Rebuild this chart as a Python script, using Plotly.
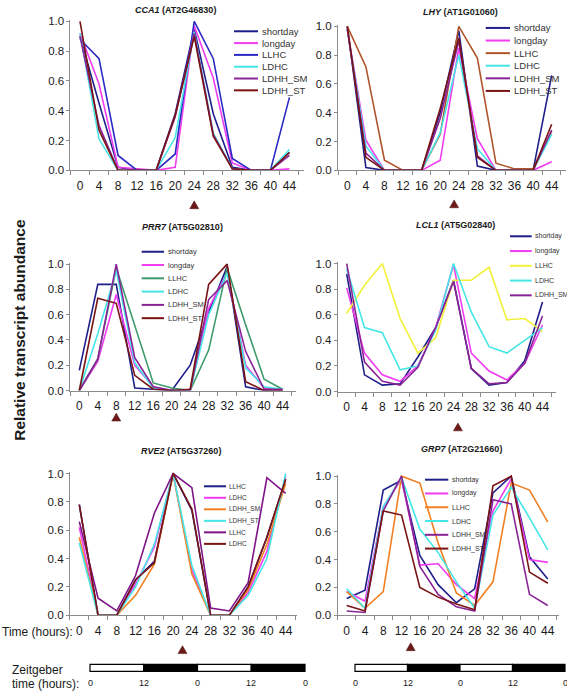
import plotly.graph_objects as go

# ---------------- data ----------------
hours = [0, 4, 8, 12, 16, 20, 24, 28, 32, 36, 40, 44]
y_ticks = [0.0, 0.2, 0.4, 0.6, 0.8, 1.0]

cca1_names = ["shortday", "longday", "LLHC", "LDHC", "LDHH_SM", "LDHH_ST"]
cca1_values = [
    [0.90, 0.45, 0.02, 0.00, 0.00, 0.38, 0.95, 0.38, 0.02, 0.00, 0.00, 0.12],
    [0.92, 0.58, 0.02, 0.01, 0.00, 0.02, 0.97, 0.62, 0.05, 0.00, 0.00, 0.01],
    [0.88, 0.75, 0.10, 0.00, 0.00, 0.11, 1.00, 0.75, 0.08, 0.00, 0.00, 0.49],
    [0.92, 0.21, 0.00, 0.00, 0.00, 0.22, 0.93, 0.25, 0.01, 0.00, 0.00, 0.14],
    [0.90, 0.30, 0.00, 0.00, 0.00, 0.36, 0.92, 0.24, 0.01, 0.00, 0.00, 0.10],
    [1.00, 0.27, 0.00, 0.00, 0.00, 0.37, 0.90, 0.23, 0.01, 0.00, 0.00, 0.12],
]

lhy_names = ["shortday", "longday", "LLHC", "LDHC", "LDHH_SM", "LDHH_ST"]
lhy_values = [
    [1.00, 0.02, 0.00, 0.00, 0.00, 0.40, 0.97, 0.03, 0.00, 0.00, 0.00, 0.66],
    [0.98, 0.21, 0.00, 0.00, 0.00, 0.07, 0.85, 0.22, 0.00, 0.00, 0.00, 0.06],
    [1.00, 0.72, 0.07, 0.00, 0.00, 0.25, 1.00, 0.78, 0.05, 0.01, 0.01, 0.27],
    [0.98, 0.17, 0.00, 0.00, 0.00, 0.26, 0.80, 0.15, 0.00, 0.00, 0.00, 0.25],
    [0.98, 0.12, 0.00, 0.00, 0.00, 0.36, 0.90, 0.10, 0.00, 0.00, 0.00, 0.28],
    [1.00, 0.09, 0.00, 0.00, 0.00, 0.43, 0.92, 0.09, 0.00, 0.00, 0.00, 0.32],
]

prr7_names = ["shortday", "longday", "LLHC", "LDHC", "LDHH_SM", "LDHH_ST"]
prr7_values = [
    [0.16, 0.84, 0.84, 0.02, 0.01, 0.00, 0.20, 0.62, 0.98, 0.03, 0.00, 0.00],
    [0.00, 0.23, 0.76, 0.20, 0.03, 0.00, 0.00, 0.65, 0.93, 0.20, 0.02, 0.00],
    [0.00, 0.25, 0.97, 0.52, 0.06, 0.02, 0.00, 0.32, 0.97, 0.52, 0.09, 0.01],
    [0.00, 0.45, 0.95, 0.22, 0.02, 0.00, 0.00, 0.60, 0.93, 0.18, 0.03, 0.01],
    [0.00, 0.25, 1.00, 0.26, 0.03, 0.00, 0.00, 0.72, 0.87, 0.31, 0.01, 0.01],
    [0.00, 0.73, 0.69, 0.12, 0.01, 0.00, 0.01, 0.84, 1.00, 0.07, 0.00, 0.00],
]

lcl1_names = ["shortday", "longday", "LLHC", "LDHC", "LDHH_SM"]
lcl1_values = [
    [0.92, 0.13, 0.05, 0.06, 0.27, 0.50, 0.87, 0.18, 0.05, 0.07, 0.24, 0.70],
    [0.81, 0.30, 0.13, 0.08, 0.20, 0.50, 0.99, 0.30, 0.16, 0.09, 0.22, 0.52],
    [0.61, 0.83, 1.00, 0.57, 0.30, 0.42, 0.87, 0.87, 0.97, 0.56, 0.57, 0.47],
    [0.96, 0.50, 0.46, 0.17, 0.20, 0.48, 1.00, 0.62, 0.35, 0.30, 0.40, 0.50],
    [1.00, 0.23, 0.08, 0.05, 0.19, 0.50, 0.86, 0.18, 0.06, 0.07, 0.22, 0.59],
]

rve2_names = ["LLHC", "LDHC", "LDHH_SM", "LDHH_ST", "LLHC", "LDHC"]
rve2_values = [
    [0.78, 0.00, 0.00, 0.25, 0.38, 1.00, 0.74, 0.00, 0.00, 0.20, 0.55, 0.96],
    [0.62, 0.00, 0.00, 0.22, 0.48, 1.00, 0.32, 0.00, 0.00, 0.16, 0.45, 0.98],
    [0.55, 0.00, 0.00, 0.14, 0.36, 1.00, 0.29, 0.00, 0.00, 0.18, 0.50, 0.93],
    [0.51, 0.00, 0.00, 0.20, 0.50, 1.00, 0.35, 0.00, 0.00, 0.14, 0.40, 1.00],
    [0.66, 0.12, 0.03, 0.28, 0.72, 1.00, 0.90, 0.05, 0.03, 0.23, 0.97, 0.86],
    [0.78, 0.00, 0.00, 0.25, 0.37, 1.00, 0.75, 0.00, 0.00, 0.20, 0.55, 0.96],
]

grp7_names = ["shortday", "longday", "LLHC", "LDHC", "LDHH_SM", "LDHH_ST"]
grp7_values = [
    [0.12, 0.18, 0.90, 0.97, 0.43, 0.22, 0.09, 0.19, 0.88, 1.00, 0.42, 0.26],
    [0.17, 0.10, 0.78, 0.98, 0.36, 0.37, 0.22, 0.12, 0.75, 0.98, 0.40, 0.38],
    [0.17, 0.05, 0.17, 1.00, 0.95, 0.52, 0.16, 0.07, 0.24, 0.95, 0.90, 0.67],
    [0.19, 0.05, 0.78, 0.99, 0.62, 0.45, 0.24, 0.05, 0.72, 0.92, 0.70, 0.47],
    [0.03, 0.02, 0.75, 1.00, 0.35, 0.15, 0.06, 0.03, 0.83, 0.80, 0.15, 0.07],
    [0.07, 0.03, 0.75, 0.72, 0.20, 0.13, 0.08, 0.04, 0.93, 1.00, 0.31, 0.23],
]

marker_hours = [24, 23, 8, 25, 22, 14]
zt_labels = ["0", "12", "0", "12", "0"]
zt_light = [True, False, True, False]

# ---------------- styles ----------------
NAVY, MAG, CYAN, PURP, MAROON = "#1f1f8c", "#f03cf0", "#45e6e6", "#8a2496", "#7a1414"
cca1_colors = [NAVY, MAG, "#2b2bc4", CYAN, PURP, MAROON]
lhy_colors = [NAVY, MAG, "#b0542c", CYAN, PURP, MAROON]
prr7_colors = [NAVY, MAG, "#3d9a6c", CYAN, PURP, MAROON]
lcl1_colors = [NAVY, MAG, "#f2f03a", CYAN, PURP]
rve2_colors = [NAVY, MAG, "#f28022", CYAN, "#7e1488", MAROON]
grp7_colors = [NAVY, MAG, "#f28022", CYAN, PURP, MAROON]

W, H = 567, 697
FONT = "Liberation Sans, Arial, Helvetica, sans-serif"
AXCOL = "#8c8c8c"
TXT = "#1a1a1a"

panels = [
    dict(title="<b><i>CCA1</i> (AT2G46830)</b>", names=cca1_names, values=cca1_values, colors=cca1_colors,
         t0=80.0, pph=4.76, v0=168.0, v1=16.7, xmax=47, title_xy=(175, 5.5), tri_dy=35,
         leg=dict(x0=234, x1=258, tx=259.5, y0=26.7, dy=12.0, size=9.5)),
    dict(title="<b><i>LHY</i> (AT1G01060)</b>", names=lhy_names, values=lhy_values, colors=lhy_colors,
         t0=347.3, pph=4.645, v0=168.0, v1=21.7, xmax=47, title_xy=(460.5, 7.3), tri_dy=34,
         leg=dict(x0=485.7, x1=510, tx=511.5, y0=23.3, dy=12.8, size=9.5)),
    dict(title="<b><i>PRR7</i> (AT5G02810)</b>", names=prr7_names, values=prr7_values, colors=prr7_colors,
         t0=79.3, pph=4.62, v0=391.7, v1=263.3, xmax=47, title_xy=(182.5, 225.5), tri_dy=27,
         leg=dict(x0=141.7, x1=164, tx=165.5, y0=250.7, dy=13.5, size=7.5)),
    dict(title="<b><i>LCL1</i> (AT5G02840)</b>", names=lcl1_names, values=lcl1_values, colors=lcl1_colors,
         t0=346.7, pph=4.45, v0=392.7, v1=262.7, xmax=47, title_xy=(455.8, 224), tri_dy=36,
         leg=dict(x0=510, x1=531.7, tx=533, y0=235, dy=15.0, size=7)),
    dict(title="<b><i>RVE2</i> (AT5G37260)</b>", names=rve2_names, values=rve2_values, colors=rve2_colors,
         t0=79.3, pph=4.69, v0=620.0, v1=476.0, xmax=46.5, title_xy=(180.5, 453), tri_dy=35,
         leg=dict(x0=204, x1=226, tx=227, y0=489, dy=11.7, size=6.5)),
    dict(title="<b><i>GRP7</i> (AT2G21660)</b>", names=grp7_names, values=grp7_values, colors=grp7_colors,
         t0=346.7, pph=4.57, v0=620.0, v1=478.7, xmax=46.5, title_xy=(461, 451), tri_dy=32,
         leg=dict(x0=425, x1=448.3, tx=449.5, y0=482.3, dy=14.0, size=7)),
]
TRI_W, TRI_H = 9.0, 8.0


def fx(px):
    return px / W


def fy(py):
    return 1 - py / H


fig = go.Figure()
shapes, annotations = [], []
layout = {}
XMIN, YMIN, YMAX = -2, 0.0, 1.01
minor_vals = [h - 2 for h in hours] + [hours[-1] + 2]

for i, p in enumerate(panels, start=1):
    sx = "" if i == 1 else str(i)
    xr, yr = f"x{sx}", f"y{sx}"
    for name, col, vals in zip(p["names"], p["colors"], p["values"]):
        fig.add_trace(go.Scatter(x=hours, y=vals, mode="lines", name=name,
                                 line=dict(color=col, width=1.6),
                                 xaxis=xr, yaxis=yr, showlegend=False, hoverinfo="skip"))
    scale = p["v0"] - p["v1"]
    layout[f"xaxis{sx}"] = dict(
        domain=[fx(p["t0"] + p["pph"] * XMIN), fx(p["t0"] + p["pph"] * p["xmax"])],
        range=[XMIN, p["xmax"]], anchor=yr, showline=True, linecolor=AXCOL, linewidth=1,
        tickmode="array", tickvals=hours, ticktext=[str(h) for h in hours],
        ticks="outside", ticklen=4, tickcolor="rgba(0,0,0,0)",
        tickfont=dict(size=12, color=TXT, family=FONT),
        minor=dict(tickmode="array", tickvals=minor_vals, ticks="outside", ticklen=4,
                   tickcolor=AXCOL, tickwidth=1, showgrid=False),
        showgrid=False, zeroline=False, fixedrange=True)
    layout[f"yaxis{sx}"] = dict(
        domain=[fy(p["v0"] - YMIN * scale), fy(p["v0"] - YMAX * scale)],
        range=[YMIN, YMAX], anchor=xr, showline=True, linecolor=AXCOL, linewidth=1,
        tickmode="array", tickvals=y_ticks, tickformat=".1f",
        ticks="outside", ticklen=3, tickcolor=AXCOL,
        tickfont=dict(size=11.5, color=TXT, family=FONT),
        showgrid=False, zeroline=False, fixedrange=True)
    # peak marker triangle below the axis (x in data hours, y in paper)
    h = marker_hours[i - 1]
    dxh = (TRI_W / 2) / p["pph"]
    yc = p["v0"] + p["tri_dy"]
    yb, yt = fy(yc + TRI_H / 2), fy(yc - TRI_H / 2)
    shapes.append(dict(type="path", xref=xr, yref="paper",
                       path=f"M {h - dxh},{yb} L {h + dxh},{yb} L {h},{yt} Z",
                       fillcolor="#6e1818", line=dict(color="#4a1010", width=0.5)))
    # title
    tx, ty = p["title_xy"]
    annotations.append(dict(text=p["title"], x=fx(tx), y=fy(ty), xref="paper", yref="paper",
                            xanchor="center", yanchor="middle", showarrow=False,
                            font=dict(size=9, color=TXT, family=FONT)))
    # legend
    lg = p["leg"]
    for k, (name, col) in enumerate(zip(p["names"], p["colors"])):
        yy = lg["y0"] + k * lg["dy"]
        shapes.append(dict(type="line", xref="paper", yref="paper", x0=fx(lg["x0"]), x1=fx(lg["x1"]),
                           y0=fy(yy), y1=fy(yy), line=dict(color=col, width=2)))
        annotations.append(dict(text=name, x=fx(lg["tx"]), y=fy(yy), xref="paper", yref="paper",
                                xanchor="left", yanchor="middle", showarrow=False,
                                font=dict(size=lg["size"], color="#333333", family=FONT)))

# side / bottom labels
annotations.append(dict(text="<b>Relative transcript abundance</b>", x=fx(20), y=fy(330), xref="paper",
                        yref="paper", textangle=-90, showarrow=False, xanchor="center", yanchor="middle",
                        font=dict(size=15.5, color=TXT, family=FONT)))
annotations.append(dict(text="Time (hours):", x=fx(0), y=fy(636.7), xref="paper", yref="paper",
                        xanchor="left", yanchor="middle", showarrow=False,
                        font=dict(size=12, color=TXT, family=FONT)))
annotations.append(dict(text="Zeitgeber", x=fx(10), y=fy(676), xref="paper", yref="paper",
                        xanchor="left", yanchor="middle", showarrow=False,
                        font=dict(size=12, color=TXT, family=FONT)))
annotations.append(dict(text="time (hours):", x=fx(10), y=fy(690), xref="paper", yref="paper",
                        xanchor="left", yanchor="middle", showarrow=False,
                        font=dict(size=12, color=TXT, family=FONT)))

# Zeitgeber light/dark bars
bars = [(90.0, 305.0), (355.0, 565.0)]
BAR_TOP, BAR_BOT = 670.0, 677.0
for b0, b1 in bars:
    seg = (b1 - b0) / len(zt_light)
    for k, light in enumerate(zt_light):
        shapes.append(dict(type="rect", xref="paper", yref="paper",
                           x0=fx(b0 + k * seg), x1=fx(b0 + (k + 1) * seg),
                           y0=fy(BAR_BOT), y1=fy(BAR_TOP),
                           fillcolor="white" if light else "black",
                           line=dict(color="black", width=1.2)))
    for k, lab in enumerate(zt_labels):
        annotations.append(dict(text=lab, x=fx(b0 + k * seg), y=fy(689), xref="paper", yref="paper",
                                xanchor="center", yanchor="middle", showarrow=False,
                                font=dict(size=9, color=TXT, family=FONT)))

fig.update_layout(**layout)
fig.update_layout(width=W, height=H, margin=dict(l=0, r=0, t=0, b=0), paper_bgcolor="white",
                  plot_bgcolor="white", shapes=shapes, annotations=annotations, showlegend=False,
                  font=dict(family=FONT, color=TXT))
fig.write_html("out.html", config={"displayModeBar": False},
               post_script="document.body.style.margin='0px';"
                           "document.documentElement.style.overflow='hidden';"
                           "document.body.style.overflow='hidden';")
